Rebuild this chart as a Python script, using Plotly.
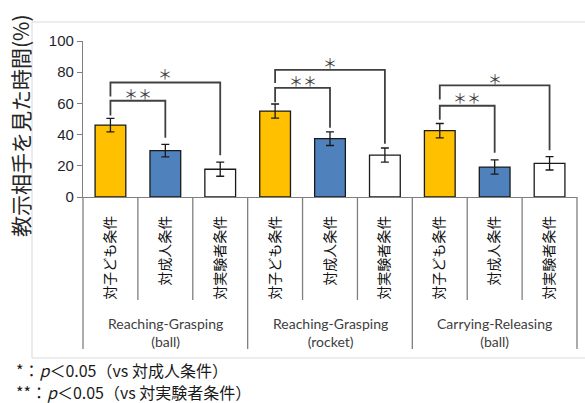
import plotly.graph_objects as go

# ---------------- data ----------------
groups = ["Reaching-Grasping<br>(ball)", "Reaching-Grasping<br>(rocket)", "Carrying-Releasing<br>(ball)"]
conditions = ["対子ども条件", "対成人条件", "対実験者条件"]
cond_colors = ["#FFC000", "#4F81BD", "#FFFFFF"]

means = [46.1, 29.7, 17.8,
         55.1, 37.4, 26.9,
         42.5, 19.2, 21.6]
errors = [4.3, 4.0, 4.5,
          4.5, 4.4, 4.5,
          4.6, 4.6, 4.3]

y_ticks = [0, 20, 40, 60, 80, 100]

# significance brackets: (group, cond_from, cond_to, top, left_bottom, right_bottom, label, label_y)
brackets = [
    (0, 0, 1, 61.7, 52.3, 38.0, "＊＊", 66.8),
    (0, 0, 2, 73.4, 64.4, 26.7, "＊", 79.3),
    (1, 0, 1, 70.0, 60.8, 44.4, "＊＊", 75.1),
    (1, 0, 2, 81.5, 73.0, 34.2, "＊", 86.4),
    (2, 0, 1, 58.5, 49.5, 28.4, "＊＊", 64.0),
    (2, 0, 2, 71.5, 62.5, 29.9, "＊", 76.1),
]

y_title = "教示相手を見た時間(%)"
footnotes = ["*：<i>p</i>＜0.05（vs 対成人条件）", "**：<i>p</i>＜0.05（vs 対実験者条件）"]

# ---------------- layout geometry ----------------
W, H = 585, 403
ML, MR, MT, MB = 83, 8, 41, 206
PW, PH = W - ML - MR, H - MT - MB
n_cond = len(conditions)
n_cat = len(groups) * n_cond
x_range = [-0.5, n_cat - 0.5]


def px_x(px):
    return (px - ML) / PW


def px_y(py):
    return (H - MB - py) / PH


def data_x_to_paper(xv):
    return (xv - x_range[0]) / (x_range[1] - x_range[0])


CJK = "Noto Sans CJK JP"
x_pos = list(range(n_cat))
labels = [conditions[i % n_cond] for i in range(n_cat)]
colors = [cond_colors[i % n_cond] for i in range(n_cat)]

fig = go.Figure()
fig.add_trace(go.Bar(
    x=x_pos, y=means, width=0.56,
    marker=dict(color=colors, line=dict(color="#1a1a1a", width=1.3)),
    error_y=dict(type="data", array=errors, visible=True, color="#1a1a1a", thickness=1.3, width=4),
    showlegend=False,
))

shapes = []
annotations = []

# chart area border
shapes.append(dict(type="rect", xref="paper", yref="paper",
                   x0=px_x(32), x1=px_x(600), y0=px_y(358), y1=px_y(22),
                   line=dict(color="#d9d9d9", width=1), layer="below"))

# category table lines below the axis
for k in range(n_cat + 1):
    is_group = (k % n_cond == 0)
    xb = data_x_to_paper(k - 0.5)
    shapes.append(dict(type="line", xref="paper", yref="paper",
                       x0=xb, x1=xb, y0=0, y1=px_y(349 if is_group else 300),
                       line=dict(color="#7f7f7f", width=1.3)))

# group labels
for g, name in enumerate(groups):
    annotations.append(dict(x=g * n_cond + 1, xref="x", y=px_y(332), yref="paper",
                            text=name, showarrow=False, xanchor="center", yanchor="middle",
                            font=dict(family="Lato", size=14, color="#404040")))

# brackets and stars
for g, c0, c1, top, lb, rb, lab, ly in brackets:
    xa = g * n_cond + c0
    xb_ = g * n_cond + c1
    shapes.append(dict(type="path", xref="x", yref="y",
                       path=f"M {xa},{lb} L {xa},{top} L {xb_},{top} L {xb_},{rb}",
                       line=dict(color="#404040", width=1.8)))
    annotations.append(dict(x=(xa + xb_) / 2, xref="x", y=ly, yref="y", text=lab,
                            showarrow=False, xanchor="center", yanchor="middle",
                            font=dict(family=CJK, size=14, color="#404040")))

# y-axis title
annotations.append(dict(x=px_x(20), y=px_y(126), xref="paper", yref="paper", text=y_title,
                        textangle=-90, showarrow=False, xanchor="center", yanchor="middle",
                        font=dict(family=CJK, size=21, color="#262626")))

# footnotes
for i, t in enumerate(footnotes):
    annotations.append(dict(x=px_x(14), y=px_y(370 + 22 * i), xref="paper", yref="paper", text=t,
                            showarrow=False, xanchor="left", yanchor="middle",
                            font=dict(family=CJK, size=16, color="#1a1a1a")))

fig.update_layout(
    width=W, height=H,
    margin=dict(l=ML, r=MR, t=MT, b=MB, pad=0),
    paper_bgcolor="white", plot_bgcolor="white",
    shapes=shapes, annotations=annotations,
    xaxis=dict(range=x_range, tickvals=x_pos, ticktext=labels, tickangle=-90,
               ticks="", showgrid=False, zeroline=False,
               showline=True, linecolor="#7f7f7f", linewidth=1.3,
               tickfont=dict(family=CJK, size=14, color="#111111"),
               ticklabelstandoff=12, fixedrange=True),
    yaxis=dict(range=[0, 100], tickvals=y_ticks, ticks="outside", ticklen=5,
               tickcolor="#7f7f7f", tickwidth=1.3,
               showline=True, linecolor="#7f7f7f", linewidth=1.3,
               showgrid=False, zeroline=False,
               tickfont=dict(family="Liberation Sans", size=15, color="#1f1f2f"),
               fixedrange=True),
)

fig.write_html("out.html")
